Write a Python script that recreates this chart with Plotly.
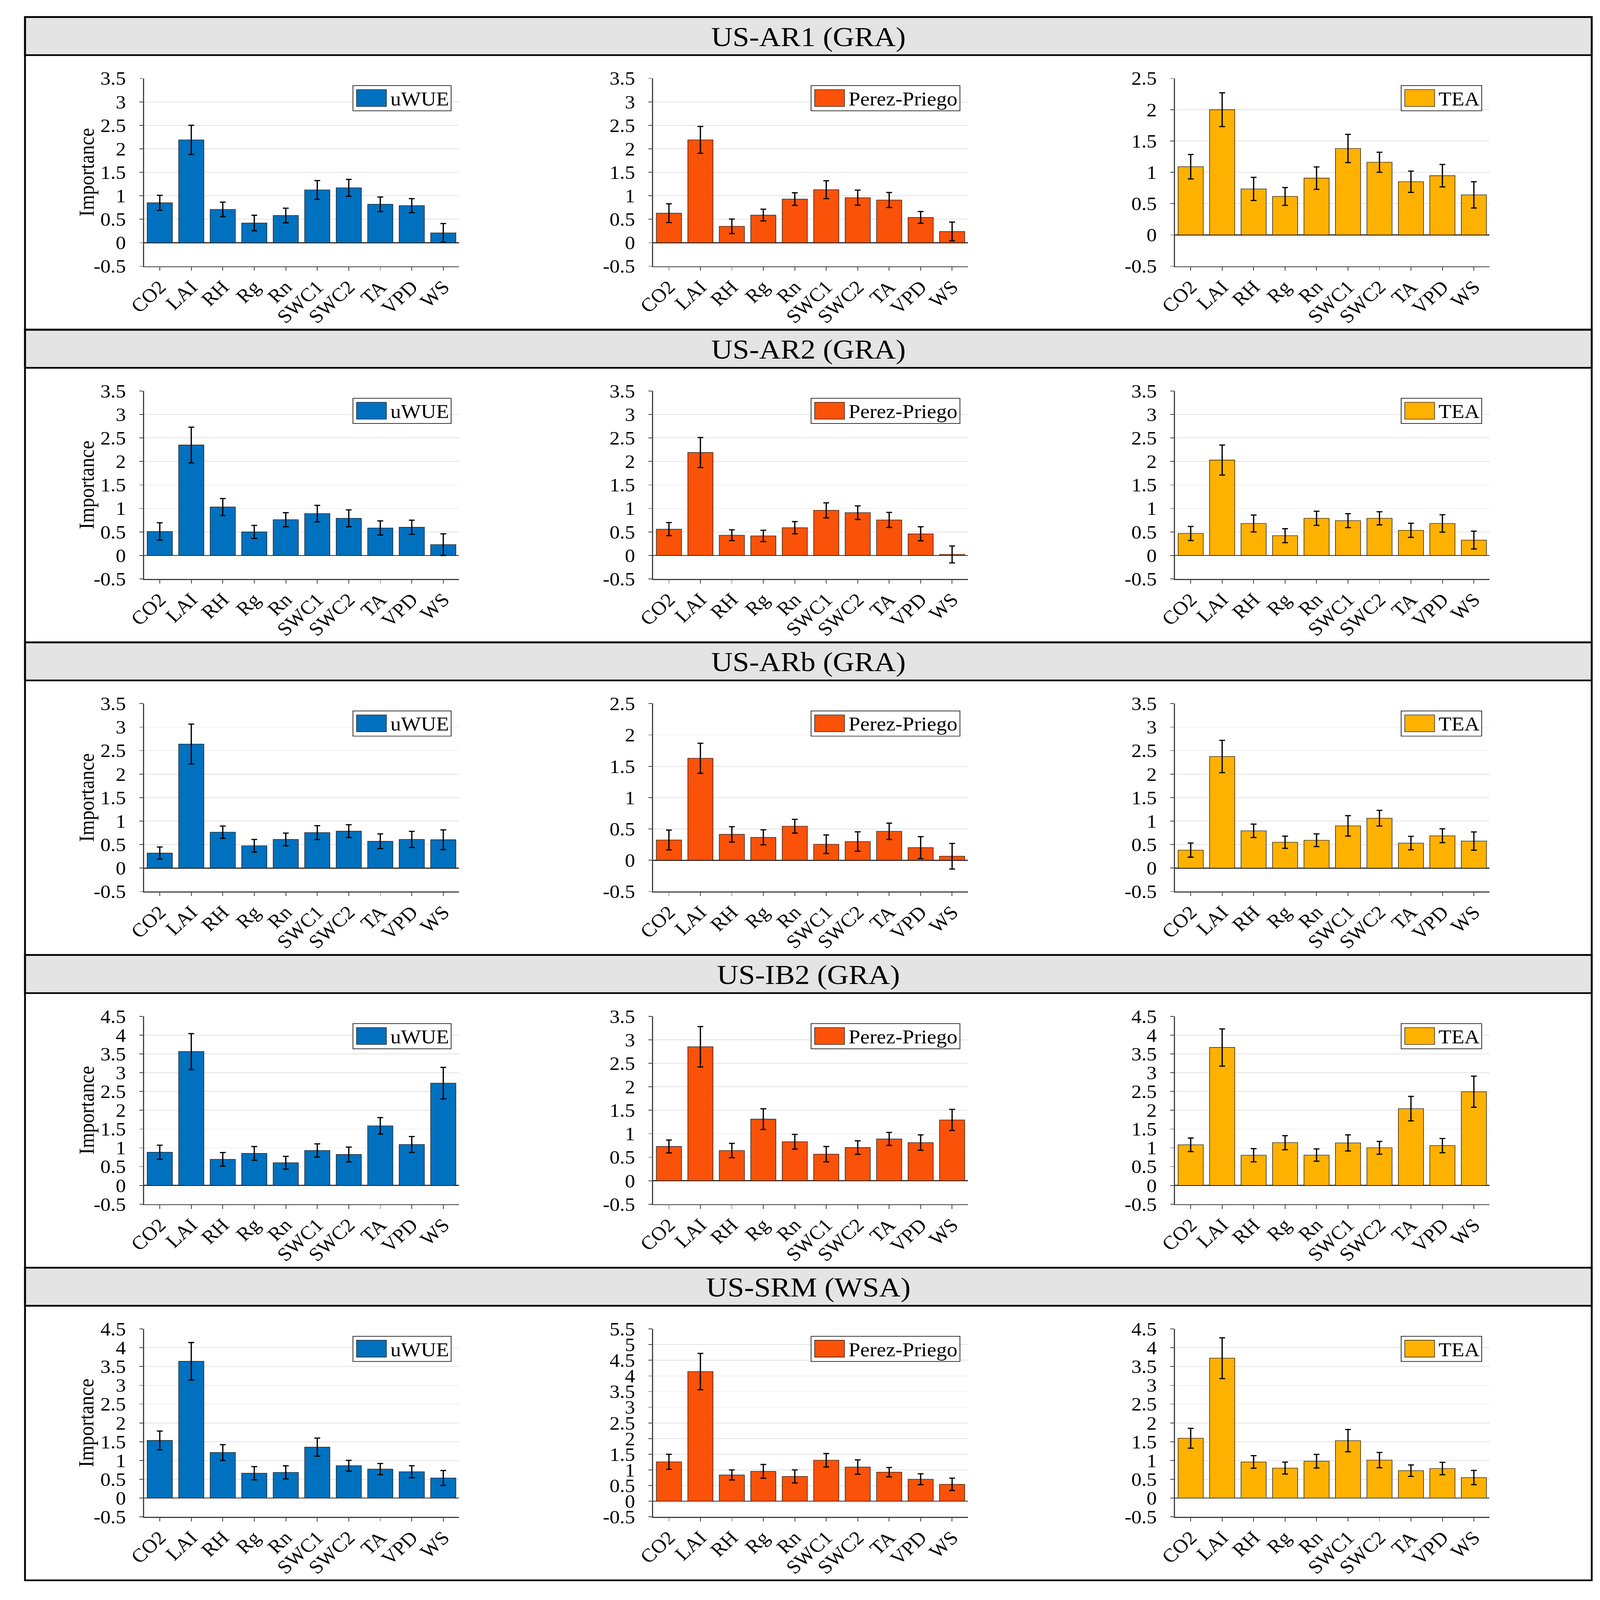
import plotly.graph_objects as go

W, H = 4401, 4765

categories = ['CO2', 'LAI', 'RH', 'Rg', 'Rn', 'SWC1', 'SWC2', 'TA', 'VPD', 'WS']
site_titles = ['US-AR1 (GRA)', 'US-AR2 (GRA)', 'US-ARb (GRA)', 'US-IB2 (GRA)', 'US-SRM (WSA)']
methods = ['uWUE', 'Perez-Priego', 'TEA']
method_colors = ['#0071BF', '#FA5208', '#FFB100']

# y-axis upper limits per row (columns: uWUE, Perez-Priego, TEA); lower limit is -0.5
ytop_AR1 = [3.5, 3.5, 2.5]
ytop_AR2 = [3.5, 3.5, 3.5]
ytop_ARb = [3.5, 2.5, 3.5]
ytop_IB2 = [4.5, 3.5, 4.5]
ytop_SRM = [4.5, 5.5, 4.5]
y_bottom = -0.5
y_step = 0.5

# ---- data: importance and error ----
AR1_uWUE = [0.85, 2.19, 0.71, 0.42, 0.58, 1.125, 1.17, 0.82, 0.79, 0.21]
AR1_uWUE_err = [0.16, 0.31, 0.155, 0.165, 0.155, 0.20, 0.18, 0.155, 0.15, 0.20]
AR1_Perez = [0.63, 2.19, 0.35, 0.59, 0.93, 1.13, 0.96, 0.91, 0.54, 0.24]
AR1_Perez_err = [0.20, 0.285, 0.155, 0.125, 0.135, 0.19, 0.16, 0.16, 0.125, 0.20]
AR1_TEA = [1.09, 2.00, 0.735, 0.615, 0.907, 1.38, 1.16, 0.85, 0.946, 0.64]
AR1_TEA_err = [0.195, 0.27, 0.185, 0.143, 0.18, 0.225, 0.16, 0.17, 0.18, 0.21]

AR2_uWUE = [0.51, 2.35, 1.03, 0.50, 0.76, 0.89, 0.79, 0.585, 0.60, 0.23]
AR2_uWUE_err = [0.185, 0.38, 0.18, 0.14, 0.15, 0.175, 0.18, 0.15, 0.15, 0.23]
AR2_Perez = [0.56, 2.19, 0.43, 0.415, 0.59, 0.96, 0.91, 0.755, 0.46, 0.02]
AR2_Perez_err = [0.14, 0.32, 0.115, 0.12, 0.13, 0.16, 0.145, 0.16, 0.15, 0.18]
AR2_TEA = [0.467, 2.03, 0.68, 0.42, 0.79, 0.74, 0.79, 0.534, 0.68, 0.327]
AR2_TEA_err = [0.15, 0.32, 0.18, 0.148, 0.15, 0.148, 0.14, 0.15, 0.185, 0.19]

ARb_uWUE = [0.32, 2.64, 0.764, 0.475, 0.61, 0.755, 0.787, 0.57, 0.61, 0.603]
ARb_uWUE_err = [0.13, 0.425, 0.13, 0.135, 0.135, 0.147, 0.136, 0.157, 0.172, 0.21]
ARb_Perez = [0.323, 1.628, 0.413, 0.366, 0.543, 0.255, 0.298, 0.462, 0.202, 0.064]
ARb_Perez_err = [0.158, 0.24, 0.123, 0.12, 0.11, 0.148, 0.155, 0.13, 0.175, 0.204]
ARb_TEA = [0.382, 2.376, 0.793, 0.55, 0.592, 0.90, 1.062, 0.532, 0.688, 0.575]
ARb_TEA_err = [0.15, 0.344, 0.143, 0.13, 0.135, 0.217, 0.166, 0.143, 0.148, 0.195]

IB2_uWUE = [0.884, 3.562, 0.694, 0.852, 0.604, 0.931, 0.823, 1.585, 1.089, 2.721]
IB2_uWUE_err = [0.187, 0.478, 0.18, 0.183, 0.17, 0.175, 0.198, 0.22, 0.212, 0.42]
IB2_Perez = [0.729, 2.852, 0.642, 1.311, 0.83, 0.565, 0.706, 0.89, 0.812, 1.294]
IB2_Perez_err = [0.137, 0.43, 0.153, 0.22, 0.157, 0.163, 0.143, 0.138, 0.165, 0.225]
IB2_TEA = [1.081, 3.671, 0.803, 1.138, 0.807, 1.131, 1.001, 2.043, 1.06, 2.493]
IB2_TEA_err = [0.18, 0.495, 0.175, 0.187, 0.164, 0.214, 0.171, 0.326, 0.19, 0.413]

SRM_uWUE = [1.534, 3.639, 1.212, 0.663, 0.684, 1.357, 0.861, 0.772, 0.702, 0.535]
SRM_uWUE_err = [0.25, 0.50, 0.21, 0.175, 0.174, 0.24, 0.144, 0.149, 0.16, 0.20]
SRM_Perez = [1.257, 4.14, 0.838, 0.954, 0.791, 1.309, 1.091, 0.928, 0.701, 0.539]
SRM_Perez_err = [0.24, 0.58, 0.16, 0.22, 0.207, 0.215, 0.23, 0.15, 0.173, 0.197]
SRM_TEA = [1.592, 3.723, 0.961, 0.798, 0.982, 1.528, 1.01, 0.73, 0.787, 0.546]
SRM_TEA_err = [0.264, 0.543, 0.168, 0.158, 0.181, 0.296, 0.204, 0.151, 0.166, 0.19]

rows = [
    (ytop_AR1, [(AR1_uWUE, AR1_uWUE_err), (AR1_Perez, AR1_Perez_err), (AR1_TEA, AR1_TEA_err)]),
    (ytop_AR2, [(AR2_uWUE, AR2_uWUE_err), (AR2_Perez, AR2_Perez_err), (AR2_TEA, AR2_TEA_err)]),
    (ytop_ARb, [(ARb_uWUE, ARb_uWUE_err), (ARb_Perez, ARb_Perez_err), (ARb_TEA, ARb_TEA_err)]),
    (ytop_IB2, [(IB2_uWUE, IB2_uWUE_err), (IB2_Perez, IB2_Perez_err), (IB2_TEA, IB2_TEA_err)]),
    (ytop_SRM, [(SRM_uWUE, SRM_uWUE_err), (SRM_Perez, SRM_Perez_err), (SRM_TEA, SRM_TEA_err)]),
]

# ---- layout geometry (pixels) ----
FONT = 'Liberation Serif, Times New Roman, serif'
frame_left, frame_right = 21, 4378
row_top0, row_pitch = 21, 943.4
header_h = 115
plot_top_off, plot_bot_off = 185, 752
col_x = [(352, 1228), (1768, 2643), (3219, 4094)]
legend_w = [273, 414, 224]


def px(v):
    return v / W


def py(v):
    return 1 - v / H


def fmt(v):
    s = ('%.1f' % v)
    if s.endswith('.0'):
        s = s[:-2]
    if s == '-0':
        s = '0'
    return s


fig = go.Figure()
shapes = []
annotations = []
layout_axes = {}

k = 0
for r, (ytops, series) in enumerate(rows):
    R = row_top0 + r * row_pitch
    shapes.append(dict(type='rect', xref='paper', yref='paper', x0=px(frame_left), x1=px(frame_right),
                       y0=py(R + row_pitch), y1=py(R), line=dict(color='black', width=5), layer='above'))
    shapes.append(dict(type='rect', xref='paper', yref='paper', x0=px(frame_left), x1=px(frame_right),
                       y0=py(R + header_h), y1=py(R), fillcolor='#E4E4E4',
                       line=dict(color='black', width=5), layer='below'))
    annotations.append(dict(text=site_titles[r], xref='paper', yref='paper', x=px((frame_left + frame_right) / 2),
                            y=py(R + header_h / 2 + 2), showarrow=False, xanchor='center', yanchor='middle',
                            font=dict(family=FONT, size=82, color='black')))
    ptop = R + plot_top_off
    pbot = R + plot_bot_off
    annotations.append(dict(text='Importance', xref='paper', yref='paper', x=px(192), y=py((ptop + pbot) / 2),
                            showarrow=False, textangle=-90, xanchor='center', yanchor='middle',
                            font=dict(family=FONT, size=58, color='black')))
    for c in range(3):
        k += 1
        vals, errs = series[c]
        xa = 'x' if k == 1 else 'x%d' % k
        ya = 'y' if k == 1 else 'y%d' % k
        fig.add_trace(go.Bar(
            x=categories, y=vals, xaxis=xa, yaxis=ya, name=methods[c], showlegend=False,
            marker=dict(color=method_colors[c], line=dict(color='#1a1a1a', width=1.5)),
            error_y=dict(type='data', array=errs, visible=True, color='black', thickness=3.5, width=8),
        ))
        top = ytops[c]
        nt = int(round((top - y_bottom) / y_step))
        tickvals = [y_bottom + i * y_step for i in range(nt + 1)]
        ticktext = [fmt(v) for v in tickvals]
        x0, x1 = col_x[c]
        layout_axes['xaxis' if k == 1 else 'xaxis%d' % k] = dict(
            domain=[px(x0), px(x1)], anchor=ya, type='category',
            showline=True, linecolor='#404040', linewidth=2.5,
            ticks='outside', ticklen=11, tickwidth=2, tickcolor='#404040',
            tickangle=-45, tickfont=dict(family=FONT, size=57, color='black'),
            showgrid=False, zeroline=False, ticklabelstandoff=-8,
        )
        layout_axes['yaxis' if k == 1 else 'yaxis%d' % k] = dict(
            domain=[py(pbot), py(ptop)], anchor=xa, range=[y_bottom, top],
            tickmode='array', tickvals=tickvals, ticktext=ticktext,
            showline=True, linecolor='#404040', linewidth=2.5,
            ticks='outside', ticklen=10, tickwidth=2, tickcolor='#404040',
            tickfont=dict(family=FONT, size=56, color='black'),
            showgrid=True, gridcolor='#E3E3E3', gridwidth=2,
            zeroline=True, zerolinecolor='#303030', zerolinewidth=2.5,
            ticklabelstandoff=26,
        )
        lb_r = x1 - 22
        lb_l = lb_r - legend_w[c]
        lb_t = ptop + 22
        lb_b = lb_t + 76
        shapes.append(dict(type='rect', xref='paper', yref='paper', x0=px(lb_l), x1=px(lb_r),
                           y0=py(lb_b), y1=py(lb_t), fillcolor='white',
                           line=dict(color='#1a1a1a', width=2), layer='above'))
        shapes.append(dict(type='rect', xref='paper', yref='paper', x0=px(lb_l + 10), x1=px(lb_l + 93),
                           y0=py(lb_t + 63), y1=py(lb_t + 12), fillcolor=method_colors[c],
                           line=dict(color='#1a1a1a', width=1.5), layer='above'))
        annotations.append(dict(text=methods[c], xref='paper', yref='paper', x=px(lb_l + 102),
                                y=py(lb_t + 40), showarrow=False, xanchor='left', yanchor='middle',
                                font=dict(family=FONT, size=58, color='black')))

fig.update_layout(
    width=W, height=H, margin=dict(l=0, r=0, t=0, b=0),
    paper_bgcolor='white', plot_bgcolor='white',
    bargap=0.2, showlegend=False,
    shapes=shapes, annotations=annotations,
    font=dict(family=FONT, color='black'),
    **layout_axes,
)

# fit the fixed-size page into the browser viewport if the viewport is smaller
post = """
document.documentElement.style.margin='0';
document.body.style.margin='0';
document.body.style.overflow='hidden';
document.documentElement.style.overflow='hidden';
var gd = document.getElementById('{plot_id}');
var sx = Math.min(1, window.innerWidth / 4401);
var sy = Math.min(1, window.innerHeight / 4765);
if (sx < 0.999 || sy < 0.999) {
  gd.style.transformOrigin = '0 0';
  gd.style.transform = 'scale(' + sx + ',' + sy + ')';
}
"""

fig.write_html('out.html', post_script=post, config={'displayModeBar': False})
